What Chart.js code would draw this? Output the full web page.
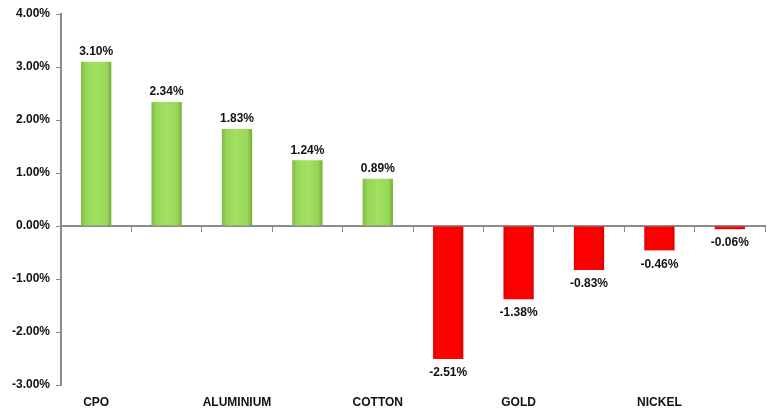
<!DOCTYPE html>
<html lang="en">
<head>
    <meta charset="UTF-8">
    <title>Commodity returns</title>
    <script src="https://cdn.jsdelivr.net/npm/chart.js"></script>
    <style>
        html, body { margin: 0; padding: 0; background: #fff; }
        canvas { display: block; }
    </style>
</head>
<body>
    <canvas id="grafico" width="771" height="410"></canvas>
    <script>
        // Commodities (only every other name is printed on the axis)
        const categorias = ['CPO', '', 'ALUMINIUM', '', 'COTTON', '', 'GOLD', '', 'NICKEL', ''];
        // Change in percent
        const variacao = [3.10, 2.34, 1.83, 1.24, 0.89, -2.51, -1.38, -0.83, -0.46, -0.06];
        const ticksY = [-3, -2, -1, 0, 1, 2, 3, 4];

        const LARGURA_BARRA = 0.43;
        const fonte = { family: 'Liberation Sans, Arial, sans-serif', size: 12, weight: 'bold' };

        // Shaded fill across each bar, lighter in the middle
        function corBarra(ctx) {
            const v = ctx.raw;
            const chart = ctx.chart;
            const x = chart.scales.x;
            if (!chart.chartArea || !x) return v >= 0 ? '#92D050' : '#FF0000';
            const centro = x.getPixelForValue(ctx.dataIndex);
            const meia = x.width / categorias.length * LARGURA_BARRA / 2;
            const g = chart.ctx.createLinearGradient(centro - meia, 0, centro + meia, 0);
            if (v >= 0) {
                g.addColorStop(0, '#7DB944');
                g.addColorStop(0.15, '#97D757');
                g.addColorStop(0.5, '#A2E061');
                g.addColorStop(0.85, '#97D757');
                g.addColorStop(1, '#72AD3A');
            } else {
                g.addColorStop(0, '#E80000');
                g.addColorStop(0.15, '#FF0000');
                g.addColorStop(0.85, '#FF0000');
                g.addColorStop(1, '#D80000');
            }
            return g;
        }

        // Value printed above positive bars and below negative ones
        const rotulos = {
            id: 'rotulos',
            afterDatasetsDraw(chart) {
                const c = chart.ctx;
                const meta = chart.getDatasetMeta(0);
                c.save();
                c.font = `bold ${fonte.size}px ${fonte.family}`;
                c.fillStyle = '#111';
                c.textAlign = 'center';
                meta.data.forEach((barra, i) => {
                    const v = variacao[i];
                    const txt = v.toFixed(2) + '%';
                    if (v >= 0) {
                        c.textBaseline = 'bottom';
                        c.fillText(txt, barra.x, barra.y - 4);
                    } else {
                        c.textBaseline = 'top';
                        c.fillText(txt, barra.x, barra.y + 8);
                    }
                });
                c.restore();
            }
        };

        new Chart(document.getElementById('grafico').getContext('2d'), {
            type: 'bar',
            data: {
                labels: categorias,
                datasets: [{
                    data: variacao,
                    backgroundColor: corBarra,
                    borderWidth: 0,
                    barPercentage: LARGURA_BARRA,
                    categoryPercentage: 1
                }]
            },
            options: {
                responsive: false,
                animation: false,
                devicePixelRatio: 1,
                layout: { padding: { top: 14, right: 6, left: 0, bottom: 0 } },
                plugins: { legend: { display: false }, tooltip: { enabled: false } },
                scales: {
                    x: {
                        position: 'bottom',
                        grid: { display: false },
                        border: { display: false },
                        ticks: { color: '#111', font: fonte, padding: 2, autoSkip: false, maxRotation: 0 },
                        afterFit: s => { s.height = 25; }
                    },
                    x2: {
                        type: 'category',
                        position: { y: 0 },
                        grid: { drawOnChartArea: false, tickLength: 5, color: '#8c8c8c', lineWidth: 1 },
                        border: { color: '#8c8c8c', width: 2 },
                        ticks: { display: false }
                    },
                    y: {
                        min: ticksY[0],
                        max: ticksY[ticksY.length - 1],
                        afterBuildTicks: s => { s.ticks = ticksY.map(v => ({ value: v })); },
                        grid: { drawOnChartArea: false, tickLength: 5, color: '#8c8c8c', lineWidth: 1 },
                        border: { color: '#8c8c8c', width: 2 },
                        ticks: {
                            color: '#111',
                            font: fonte,
                            padding: 6,
                            autoSkip: false,
                            callback: v => v.toFixed(2) + '%'
                        },
                        afterFit: s => { s.width = 61; }
                    }
                }
            },
            plugins: [rotulos]
        });
    </script>
</body>
</html>
